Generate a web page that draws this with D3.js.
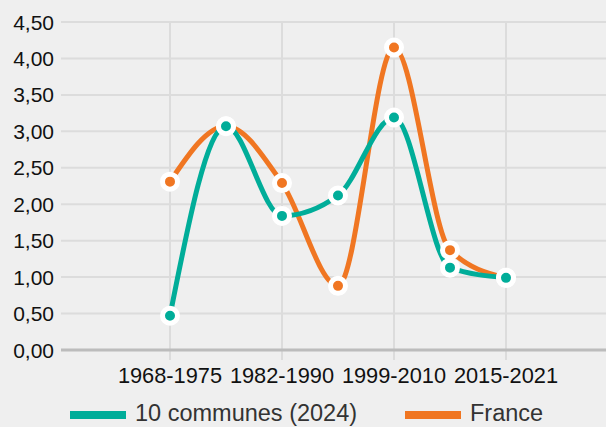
<!DOCTYPE html>
<html>
<head>
<meta charset="utf-8">
<script src="https://cdn.jsdelivr.net/npm/d3@7"></script>
<style>
  html, body { margin: 0; padding: 0; background: #efefef; }
  svg { display: block; font-family: "Liberation Sans", Arial, sans-serif; }
</style>
</head>
<body>
<div id="viz"></div>
<script>
const periods = ['1968-1975', '1975-1982', '1982-1990', '1990-1999', '1999-2010', '2010-2015', '2015-2021'];
const communes = [0.47, 3.07, 1.84, 2.12, 3.19, 1.13, 0.99];
const france = [2.31, 3.07, 2.29, 0.88, 4.15, 1.37, 0.99];
const yTicks = [0, 0.5, 1, 1.5, 2, 2.5, 3, 3.5, 4, 4.5];
const labelEvery = 2;

const width = 606,
  height = 427,
  margin = { top: 22, right: 0, bottom: 77, left: 61 };

const teal = '#00ad99',
  orange = '#f07622';

const svg = d3.select('#viz')
  .append('svg')
  .attr('width', width)
  .attr('height', height);

const yScale = d3.scaleLinear()
  .domain([0, 4.5])
  .range([height - margin.bottom, margin.top]);

const xScale = d3.scalePoint()
  .domain(periods)
  .range([170, 506]);

const fmt = d => d3.format('.2f')(d).replace('.', ',');

// horizontal grid
svg.append('g')
  .selectAll('line')
  .data(yTicks.filter(d => d > 0))
  .join('line')
  .attr('x1', margin.left)
  .attr('x2', width)
  .attr('y1', d => yScale(d))
  .attr('y2', d => yScale(d))
  .attr('stroke', '#dcdcdc')
  .attr('stroke-width', 2);

// vertical grid + ticks, every other period
const shown = periods.filter((d, i) => i % labelEvery === 0);
svg.append('g')
  .selectAll('line')
  .data(shown)
  .join('line')
  .attr('x1', d => xScale(d))
  .attr('x2', d => xScale(d))
  .attr('y1', yScale(4.5))
  .attr('y2', yScale(0) + 10)
  .attr('stroke', '#dcdcdc')
  .attr('stroke-width', 2);

// x axis line
svg.append('line')
  .attr('x1', margin.left)
  .attr('x2', width)
  .attr('y1', yScale(0))
  .attr('y2', yScale(0))
  .attr('stroke', '#bcbcbc')
  .attr('stroke-width', 3);

// y labels
svg.append('g')
  .selectAll('text')
  .data(yTicks)
  .join('text')
  .attr('x', 54)
  .attr('y', d => yScale(d))
  .attr('dy', '0.36em')
  .attr('text-anchor', 'end')
  .attr('font-size', 21)
  .attr('fill', '#111')
  .text(fmt);

// x labels
svg.append('g')
  .selectAll('text')
  .data(shown)
  .join('text')
  .attr('x', d => xScale(d))
  .attr('y', 383)
  .attr('text-anchor', 'middle')
  .attr('font-size', 21.8)
  .attr('fill', '#111')
  .text(d => d);

const line = d3.line()
  .x((d, i) => xScale(periods[i]))
  .y(d => yScale(d))
  .curve(d3.curveMonotoneX);

const series = [
  { name: 'France', values: france, color: orange },
  { name: '10 communes (2024)', values: communes, color: teal }
];

series.forEach(s => {
  svg.append('path')
    .datum(s.values)
    .attr('d', line)
    .attr('fill', 'none')
    .attr('stroke', s.color)
    .attr('stroke-width', 5);
});

series.forEach(s => {
  svg.append('g')
    .selectAll('circle')
    .data(s.values)
    .join('circle')
    .attr('cx', (d, i) => xScale(periods[i]))
    .attr('cy', d => yScale(d))
    .attr('r', 7.5)
    .attr('fill', s.color)
    .attr('stroke', '#fff')
    .attr('stroke-width', 5);
});

// legend
const legend = [
  { name: '10 communes (2024)', color: teal, x: 70 },
  { name: 'France', color: orange, x: 405 }
];
const lg = svg.append('g')
  .selectAll('g')
  .data(legend)
  .join('g')
  .attr('transform', d => 'translate(' + d.x + ',0)');
lg.append('rect')
  .attr('x', 0)
  .attr('y', 411)
  .attr('width', 56)
  .attr('height', 8)
  .attr('fill', d => d.color);
lg.append('text')
  .attr('x', 65)
  .attr('y', 421)
  .attr('font-size', 23.5)
  .attr('fill', '#333')
  .text(d => d.name);
</script>
</body>
</html>
